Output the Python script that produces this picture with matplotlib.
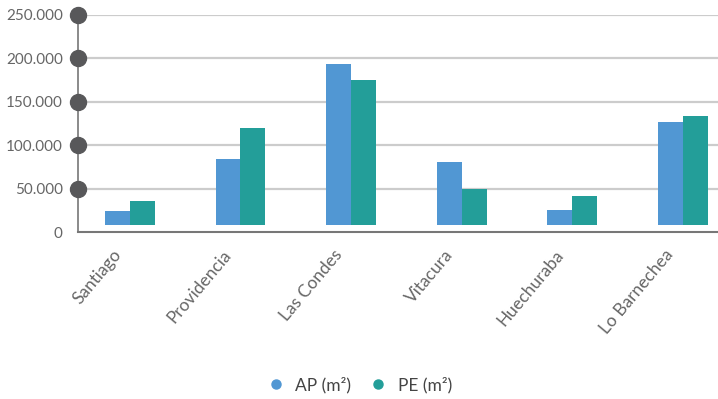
import matplotlib.pyplot as plt
import matplotlib.transforms as mtransforms
import numpy as np

plt.rcParams['font.family'] = ['Lato', 'DejaVu Sans']

comunas = ['Santiago', 'Providencia', 'Las Condes', 'Vitacura', 'Huechuraba', 'Lo Barnechea']
ap = [24000, 84000, 194000, 81000, 25000, 127000]
pe = [36000, 120000, 175000, 49000, 41000, 134000]
yticks = [0, 50000, 100000, 150000, 200000, 250000]
ytick_labels = ['0', '50.000', '100.000', '150.000', '200.000', '250.000']

c_ap = '#5197d3'
c_pe = '#239e99'
grey = '#666666'

# bars in the original start a little above the axis line
base = 7500

fig = plt.figure(figsize=(7.18, 3.99), dpi=100)
ax = fig.add_axes([78 / 718, 1 - 232 / 399, 640 / 718, 217 / 399])

x = np.arange(len(comunas))
w = 0.226
ax.bar(x - w / 2, np.array(ap) - base, w, bottom=base, color=c_ap, label='AP (m²)', zorder=3)
ax.bar(x + w / 2, np.array(pe) - base, w, bottom=base, color=c_pe, label='PE (m²)', zorder=3)

ax.set_xlim(-0.47, 5.32)
ax.set_ylim(0, 250000)
ax.set_yticks(yticks)
ax.set_yticklabels(ytick_labels, fontsize=11, color=grey)
for v in yticks[1:]:
    ax.axhline(v, color='#cccccc', lw=1.6, zorder=1)
ax.plot([-0.47] * 5, yticks[1:], 'o', color='#58585a', ms=11.5, clip_on=False, zorder=5)

for s in ['top', 'right']:
    ax.spines[s].set_visible(False)
ax.spines['left'].set_color('#777777')
ax.spines['bottom'].set_color('#777777')
ax.spines['left'].set_linewidth(1.2)
ax.spines['bottom'].set_linewidth(1.5)
ax.tick_params(axis='y', length=0, pad=11)
ax.tick_params(axis='x', length=0)

ax.set_xticks(x)
ax.set_xticklabels(comunas, rotation=50, ha='right', rotation_mode='anchor',
                   fontsize=12.5, color=grey)
offset = mtransforms.ScaledTranslation(-18 / 100, -10 / 100, fig.dpi_scale_trans)
for lbl in ax.get_xticklabels():
    lbl.set_transform(lbl.get_transform() + offset)

h1 = plt.Line2D([], [], marker='o', ls='', color=c_ap, ms=6.5)
h2 = plt.Line2D([], [], marker='o', ls='', color=c_pe, ms=6.5)
fig.legend([h1, h2], ['AP (m²)', 'PE (m²)'], loc='center', bbox_to_anchor=(355 / 718, 1 - 385 / 399),
           ncol=2, frameon=False, fontsize=12.5, labelcolor='#444444',
           handletextpad=0.1, columnspacing=0.6)

fig.savefig('out.png', dpi=100)
